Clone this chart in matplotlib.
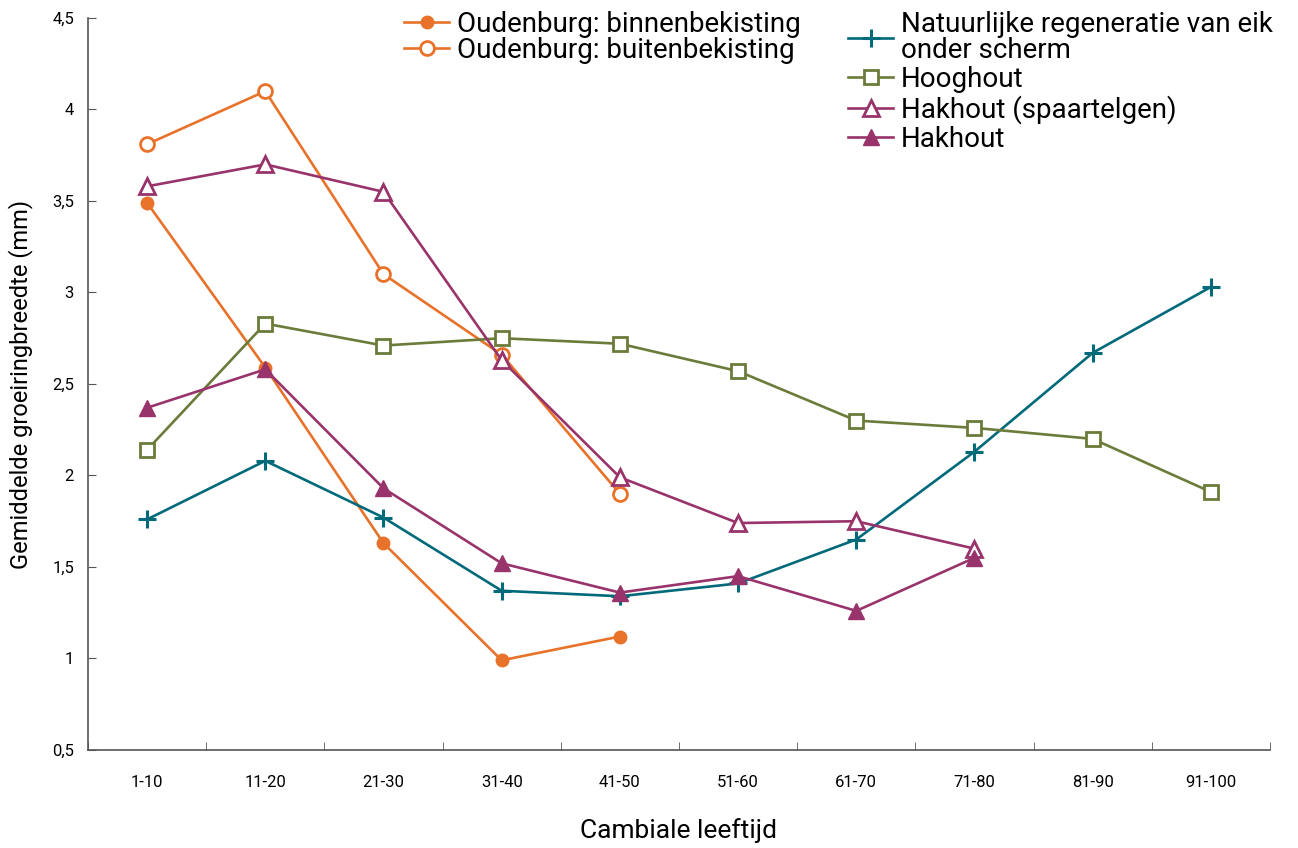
import matplotlib
matplotlib.use("Agg")
import matplotlib.pyplot as plt
from matplotlib.ticker import FuncFormatter

# ============== data ==============
categories = ["1-10", "11-20", "21-30", "31-40", "41-50",
              "51-60", "61-70", "71-80", "81-90", "91-100"]

binnen = [3.49, 2.59, 1.63, 0.99, 1.12]
buiten = [3.81, 4.10, 3.10, 2.66, 1.90]
natuurlijk = [1.76, 2.08, 1.77, 1.37, 1.34, 1.41, 1.65, 2.13, 2.67, 3.03]
hooghout = [2.14, 2.83, 2.71, 2.75, 2.72, 2.57, 2.30, 2.26, 2.20, 1.91]
spaartelgen = [3.58, 3.70, 3.55, 2.63, 1.99, 1.74, 1.75, 1.60]
hakhout = [2.37, 2.58, 1.93, 1.52, 1.36, 1.45, 1.26, 1.55]

orange = "#E8722A"
teal = "#006A7A"
olive = "#6B7B3A"
purple = "#99336B"

plt.rcParams['font.family'] = ['Roboto', 'DejaVu Sans']

fig = plt.figure(figsize=(12.98, 8.48), dpi=100)
ax = fig.add_axes([0.0678, 0.1156, 0.9106, 0.8632])

lw = 1.9

l1, = ax.plot(range(len(binnen)), binnen, color=orange, lw=lw, marker="o",
              ms=9, mfc=orange, mec=orange)
l2, = ax.plot(range(len(buiten)), buiten, color=orange, lw=lw, marker="o",
              ms=10, mfc="white", mec=orange, mew=2)
l3, = ax.plot(range(len(natuurlijk)), natuurlijk, color=teal, lw=lw, marker="+",
              ms=13, mew=2.2, mec=teal)
l4, = ax.plot(range(len(hooghout)), hooghout, color=olive, lw=lw, marker="s",
              ms=10, mfc="white", mec=olive, mew=2)
l5, = ax.plot(range(len(spaartelgen)), spaartelgen, color=purple, lw=lw, marker="^",
              ms=11, mfc="white", mec=purple, mew=2)
l6, = ax.plot(range(len(hakhout)), hakhout, color=purple, lw=lw, marker="^",
              ms=11, mfc=purple, mec=purple)

ax.set_xlim(-0.5, 9.5)
ax.set_ylim(0.5, 4.5)

ax.set_xticks(range(len(categories)))
ax.set_xticklabels(categories, fontsize=12)
ax.set_xticks([i + 0.5 for i in range(-1, 10)], minor=True)
ax.tick_params(axis="x", which="major", length=0, pad=18)
ax.tick_params(axis="x", which="minor", direction="in", length=6, color="#555555")

ax.set_yticks([0.5, 1, 1.5, 2, 2.5, 3, 3.5, 4, 4.5])
ax.yaxis.set_major_formatter(FuncFormatter(lambda v, p: ("%g" % v).replace(".", ",")))
ax.tick_params(axis="y", direction="in", length=6, labelsize=12, color="#555555", pad=10)

for s in ["top", "right"]:
    ax.spines[s].set_visible(False)
for s in ["left", "bottom"]:
    ax.spines[s].set_color("#555555")
    ax.spines[s].set_linewidth(1.2)

ax.set_xlabel("Cambiale leeftijd", fontsize=19, labelpad=20)
ax.set_ylabel("Gemiddelde groeiringbreedte (mm)", fontsize=17, labelpad=14)

leg1 = fig.legend([l1, l2], ["Oudenburg: binnenbekisting", "Oudenburg: buitenbekisting"],
                  loc="upper left", bbox_to_anchor=(0.303, 1.0), frameon=False,
                  fontsize=20, handlelength=1.6, handletextpad=0.3, labelspacing=-0.05,
                  borderaxespad=0)
leg2 = fig.legend([l3, l4, l5, l6],
                  ["Natuurlijke regeneratie van eik\nonder scherm", "Hooghout",
                   "Hakhout (spaartelgen)", "Hakhout"],
                  loc="upper left", bbox_to_anchor=(0.645, 1.0), frameon=False,
                  fontsize=20, handlelength=1.6, handletextpad=0.3, labelspacing=0.07,
                  borderaxespad=0)
for t in leg2.get_texts():
    t.set_linespacing(0.95)

fig.savefig("out.png", dpi=100)
